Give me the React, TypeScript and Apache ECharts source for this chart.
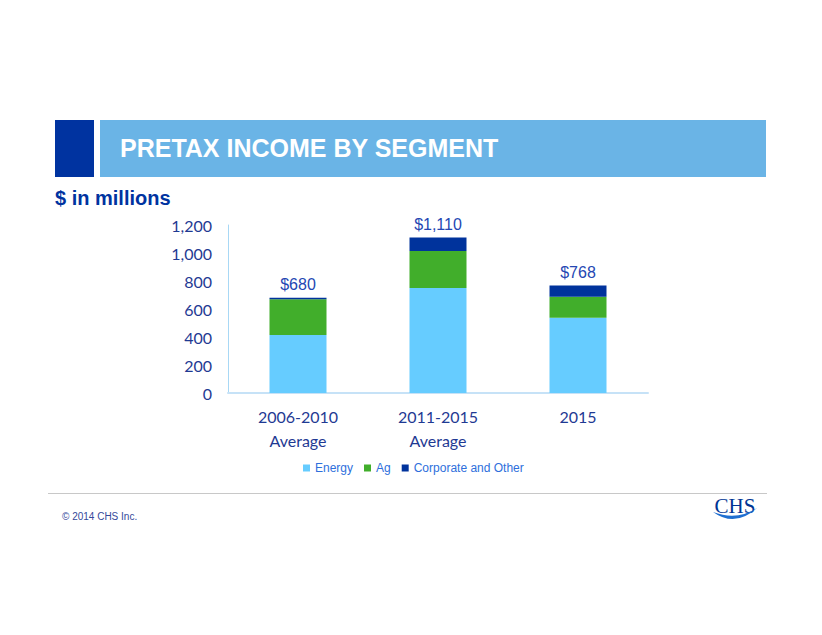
import React, { useEffect, useRef } from "react";
import * as echarts from "echarts";

const categories = ["2006-2010\nAverage", "2011-2015\nAverage", "2015"];
const energy = [415, 750, 538];
const ag = [255, 265, 150];
const corporate = [10, 95, 80];
const totals = [680, 1110, 768];
const yTicks = { min: 0, max: 1200, interval: 200 };

const swooshD = "M0,4 Q22,20 44,0 Q24,13 0,4 Z";
echarts.graphic.registerShape("swoosh", (echarts.graphic as any).extendPath(swooshD, {}));

export default function App() {
  const ref = useRef<HTMLDivElement>(null);
  useEffect(() => {
    document.body.style.margin = "0";
    const chart = echarts.init(ref.current!, undefined, { renderer: "svg" });
    const axisColor = "#1f3a93";
    chart.setOption({
      animation: false,
      backgroundColor: "#ffffff",
      grid: { left: 228, right: 174, top: 225, bottom: 242, containLabel: false },
      legend: {
        left: 298,
        top: 457,
        itemWidth: 7,
        itemHeight: 7,
        itemGap: 11,
        icon: "rect",
        textStyle: { fontFamily: "Liberation Sans, Arial", fontSize: 12, color: "#2e6fdc" },
        data: ["Energy", "Ag", "Corporate and Other"],
      },
      xAxis: {
        type: "category",
        data: categories,
        axisLine: { show: true, lineStyle: { color: "#c6e2f7", width: 2 } },
        axisTick: { show: false },
        axisLabel: {
          color: axisColor,
          fontFamily: "Lato, Open Sans",
          fontSize: 16,
          lineHeight: 24,
          margin: 11,
          interval: 0,
        },
      },
      yAxis: {
        type: "value",
        min: yTicks.min,
        max: yTicks.max,
        interval: yTicks.interval,
        axisLine: { show: true, lineStyle: { color: "#a8d8f5", width: 1 } },
        axisTick: { show: false },
        splitLine: { show: false },
        axisLabel: { color: axisColor, fontFamily: "Lato, Open Sans", fontSize: 16, margin: 16 },
      },
      series: [
        {
          name: "Energy",
          type: "bar",
          stack: "total",
          barWidth: 57,
          data: energy,
          itemStyle: { color: "#66ccff" },
        },
        {
          name: "Ag",
          type: "bar",
          stack: "total",
          barWidth: 57,
          data: ag,
          itemStyle: { color: "#41ae2b" },
        },
        {
          name: "Corporate and Other",
          type: "bar",
          stack: "total",
          barWidth: 57,
          data: corporate,
          itemStyle: { color: "#00339c" },
          label: {
            show: true,
            position: "top",
            distance: 5,
            fontFamily: "Liberation Sans, Arial",
            fontSize: 16,
            color: "#2447b3",
            formatter: (p: any) => "$" + totals[p.dataIndex].toLocaleString("en-US"),
          },
        },
      ],
      graphic: [
        { type: "rect", shape: { x: 55, y: 120, width: 39, height: 57 }, style: { fill: "#0033a0" }, silent: true },
        { type: "rect", shape: { x: 100, y: 120, width: 666, height: 57 }, style: { fill: "#6ab4e6" }, silent: true },
        {
          type: "text",
          x: 120,
          y: 148,
          style: {
            text: "PRETAX INCOME BY SEGMENT",
            fill: "#ffffff",
            font: "bold 25px 'Liberation Sans', Arial",
            verticalAlign: "middle",
          },
        },
        {
          type: "text",
          x: 55,
          y: 198,
          style: {
            text: "$ in millions",
            fill: "#0033a0",
            font: "bold 20px 'Liberation Sans', Arial",
            verticalAlign: "middle",
          },
        },
        {
          type: "line",
          shape: { x1: 48, y1: 493.5, x2: 767, y2: 493.5 },
          style: { stroke: "#c8c8c8", lineWidth: 1 },
        },
        {
          type: "text",
          x: 62,
          y: 516,
          style: {
            text: "\u00a9 2014 CHS Inc.",
            fill: "#34499a",
            font: "10px 'Liberation Sans', Arial",
            verticalAlign: "middle",
          },
        },
        {
          type: "text",
          x: 735,
          y: 506,
          style: {
            text: "CHS",
            fill: "#003594",
            font: "21px 'Liberation Serif', 'DejaVu Serif', serif",
            align: "center",
            verticalAlign: "middle",
          },
        },
        {
          type: "swoosh",
          x: 713,
          y: 508,
          scaleX: 1,
          scaleY: 1,
          style: { fill: "#1f6fd1" },
        },
      ],
    });
    return () => chart.dispose();
  }, []);
  return <div ref={ref} style={{ width: 822, height: 635, position: "absolute", left: 0, top: 0 }} />;
}
